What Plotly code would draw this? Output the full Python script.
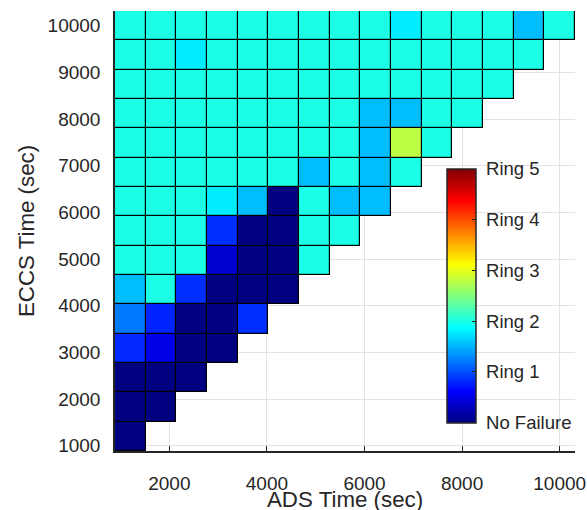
import plotly.graph_objects as go

# ADS (x) and ECCS (y) time grid values (sec)
ads_times = [1200, 1829, 2457, 3086, 3714, 4343, 4971, 5600, 6229, 6857, 7486, 8114, 8743, 9371, 10000]
eccs_times = [1200, 1829, 2457, 3086, 3714, 4343, 4971, 5600, 6229, 6857, 7486, 8114, 8743, 9371, 10000]

# Failure level per cell, one list per ECCS row (bottom to top); cells only where ADS <= ECCS
row_00 = [0]
row_01 = [0, 0]
row_02 = [0, 0, 0]
row_03 = [0.82, 0.5, 0, 0]
row_04 = [1.22, 0.8, 0, 0, 0.85]
row_05 = [1.55, 2, 0.85, 0, 0, 0]
row_06 = [2, 2, 2, 0.4, 0, 0, 2]
row_07 = [2, 2, 2, 0.85, 0, 0, 2, 2]
row_08 = [2, 2, 2, 1.78, 1.55, 0, 2, 1.55, 1.55]
row_09 = [2, 2, 2, 2, 2, 2, 1.55, 2, 1.55, 2]
row_10 = [2, 2, 2, 2, 2, 2, 2, 2, 1.55, 2.8, 2]
row_11 = [2, 2, 2, 2, 2, 2, 2, 2, 1.55, 1.55, 2, 2]
row_12 = [2, 2, 2, 2, 2, 2, 2, 2, 2, 2, 2, 2, 2]
row_13 = [2, 2, 1.78, 2, 2, 2, 2, 2, 2, 2, 2, 2, 2, 2]
row_14 = [2, 2, 2, 2, 2, 2, 2, 2, 2, 1.78, 2, 2, 2, 1.55, 2]

rows = [row_00, row_01, row_02, row_03, row_04, row_05, row_06, row_07,
        row_08, row_09, row_10, row_11, row_12, row_13, row_14]

level_vals = [0, 1, 2, 3, 4, 5]
level_text = ["No Failure", "Ring 1", "Ring 2", "Ring 3", "Ring 4", "Ring 5"]

x_ticks = [2000, 4000, 6000, 8000, 10000]
y_ticks = [1000, 2000, 3000, 4000, 5000, 6000, 7000, 8000, 9000, 10000]

x_title = "ADS Time (sec)"
y_title = "ECCS Time (sec)"

n = len(ads_times)
z = [r + [None] * (n - len(r)) for r in rows]
z_edge = [[(0 if v is not None else None) for v in r] for r in z]

jet = [[0.0, "#000080"], [0.125, "#0000FF"], [0.375, "#00FFFF"],
       [0.625, "#FFFF00"], [0.875, "#FF0000"], [1.0, "#800000"]]

FONT = "Liberation Sans, Arial, Helvetica, sans-serif"
TXT = "#262626"
TICK_SIZE = 19
TITLE_SIZE = 22.3

fig = go.Figure()
# black layer underneath acts as cell borders
fig.add_trace(go.Heatmap(
    x=ads_times, y=eccs_times, z=z_edge,
    colorscale=[[0, "#000000"], [1, "#000000"]],
    showscale=False, hoverinfo="skip",
))
fig.add_trace(go.Heatmap(
    x=ads_times, y=eccs_times, z=z,
    colorscale=jet, zmin=0, zmax=5,
    xgap=1.2, ygap=1.2,
    colorbar=dict(
        x=0.7217, xanchor="left", xpad=0,
        y=0.353, yanchor="middle", ypad=0,
        thickness=29, len=254, lenmode="pixels",
        outlinecolor=TXT, outlinewidth=1.5,
        tickvals=level_vals, ticktext=["\u00a0" + t for t in level_text],
        ticks="inside", ticklen=4, tickcolor=TXT,
        tickfont=dict(family=FONT, size=18.5, color=TXT),
    ),
))

axis_common = dict(
    range=[885.7, 10314.3],
    ticks="inside", ticklen=5, tickcolor=TXT, tickwidth=1,
    showline=True, linecolor=TXT, linewidth=1.5,
    showgrid=True, gridcolor="#E2E2E2", gridwidth=1,
    zeroline=False, layer="below traces",
    tickformat="d", automargin=False,
    tickfont=dict(family=FONT, size=TICK_SIZE, color=TXT),
)

fig.update_layout(
    width=587, height=510,
    margin=dict(l=115, r=12, t=11, b=59, autoexpand=False),
    paper_bgcolor="white", plot_bgcolor="white",
    font=dict(family=FONT, color=TXT),
    xaxis=dict(**axis_common,
               tickvals=x_ticks,
               ticklabelstandoff=14),
    yaxis=dict(**axis_common,
               tickvals=y_ticks,
               ticklabelstandoff=9,
               title=dict(text=y_title, standoff=7,
                          font=dict(family=FONT, size=TITLE_SIZE, color=TXT))),
    annotations=[dict(
        text=x_title, xref="paper", yref="paper", x=0.5, y=-0.110,
        xanchor="center", yanchor="middle", showarrow=False,
        font=dict(family=FONT, size=TITLE_SIZE, color=TXT),
    )],
)

fig.write_html("out.html")
